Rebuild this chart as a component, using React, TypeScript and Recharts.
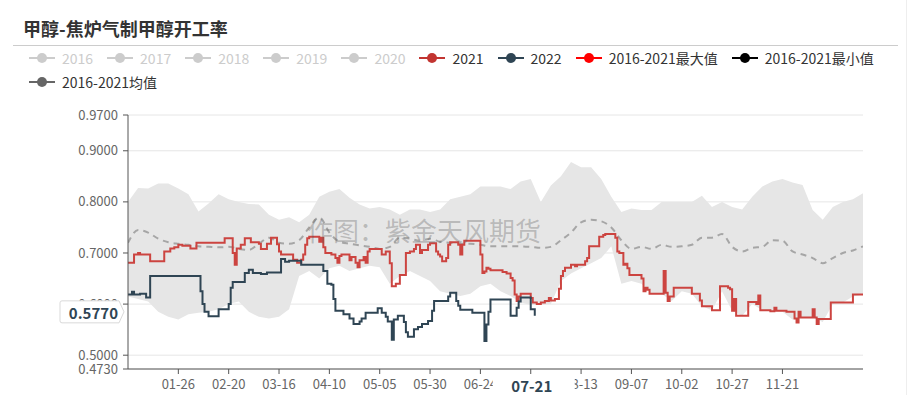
import React from "react";
import {
  Area,
  CartesianGrid,
  ComposedChart,
  Line,
  ReferenceLine,
  XAxis,
  YAxis,
} from "recharts";

const FONT = '"Noto Sans CJK SC", "Noto Sans", sans-serif';

// x axis: day of year (leap calendar, 0 = 01-01)
const tickDays = [25, 50, 75, 100, 125, 150, 175, 200, 225, 250, 275, 300, 325];
const tickLabels = [
  "01-26", "02-20", "03-16", "04-10", "05-05", "05-30", "06-24",
  "07-19", "08-13", "09-07", "10-02", "10-27", "11-21",
];
const yTicks = [0.473, 0.5, 0.6, 0.7, 0.8, 0.9, 0.97];

// 2021: days where the weekly value changes, and the value from that day on
const days2021 = [
  0, 3, 5, 6, 11, 18, 21, 23, 25, 27, 31, 34, 48, 52, 53, 54, 56, 58, 61, 65,
  66, 69, 71, 74, 75, 76, 82, 84, 86, 87, 88, 89, 90, 95, 96, 97, 98, 101, 103,
  104, 105, 106, 110, 111, 113, 114, 115, 117, 118, 119, 120, 126, 128, 130,
  131, 133, 135, 138, 140, 142, 143, 145, 146, 149, 150, 153, 154, 155, 156,
  158, 159, 160, 164, 165, 166, 167, 175, 176, 177, 178, 179, 180, 186, 188,
  190, 191, 192, 193, 194, 195, 200, 201, 203, 205, 207, 209, 210, 212, 214,
  215, 216, 217, 220, 222, 223, 227, 228, 229, 234, 236, 237, 242, 243, 244,
  246, 247, 248, 249, 255, 256, 257, 258, 259, 266, 267, 268, 269, 271, 280,
  284, 285, 290, 294, 298, 299, 300, 301, 302, 308, 312, 313, 314, 319, 321,
  322, 327, 331, 332, 333, 334, 340, 341, 342, 343, 349, 360, 365,
];
const vals2021 = [
  0.681, 0.697, 0.7, 0.697, 0.684, 0.703, 0.709, 0.711, 0.716, 0.714, 0.709,
  0.72, 0.729, 0.7, 0.677, 0.709, 0.716, 0.729, 0.721, 0.718, 0.708, 0.718,
  0.73, 0.717, 0.703, 0.697, 0.687, 0.681, 0.687, 0.697, 0.716, 0.729, 0.732,
  0.722, 0.73, 0.711, 0.7, 0.697, 0.69, 0.681, 0.694, 0.697, 0.686, 0.692,
  0.681, 0.672, 0.686, 0.692, 0.681, 0.703, 0.708, 0.697, 0.703, 0.68, 0.635,
  0.64, 0.657, 0.7, 0.703, 0.708, 0.716, 0.7, 0.706, 0.716, 0.719, 0.703,
  0.697, 0.693, 0.684, 0.69, 0.716, 0.721, 0.716, 0.697, 0.716, 0.724, 0.697,
  0.661, 0.664, 0.671, 0.669, 0.666, 0.663, 0.66, 0.651, 0.646, 0.619, 0.606,
  0.615, 0.62, 0.612, 0.603, 0.6, 0.603, 0.606, 0.612, 0.607, 0.61, 0.63,
  0.655, 0.665, 0.671, 0.677, 0.674, 0.677, 0.684, 0.69, 0.713, 0.732, 0.735,
  0.737, 0.73, 0.703, 0.7, 0.677, 0.679, 0.67, 0.657, 0.65, 0.625, 0.632,
  0.628, 0.62, 0.665, 0.622, 0.606, 0.615, 0.632, 0.62, 0.607, 0.596, 0.588,
  0.635, 0.632, 0.629, 0.587, 0.61, 0.577, 0.604, 0.6, 0.617, 0.588, 0.586,
  0.593, 0.587, 0.585, 0.572, 0.564, 0.585, 0.574, 0.59, 0.574, 0.561, 0.571,
  0.603, 0.619, 0.619,
];

const days2022 = [
  0, 2, 3, 6, 9, 11, 36, 37, 38, 40, 45, 50, 51, 52, 58, 60, 62, 66, 69, 76,
  78, 80, 86, 97, 99, 101, 102, 103, 107, 110, 112, 115, 116, 118, 124, 126,
  128, 129, 131, 132, 134, 137, 138, 139, 142, 144, 146, 149, 151, 152, 159,
  160, 163, 164, 165, 171, 177, 178, 179, 180, 190, 193, 194, 195, 200, 202,
];
const vals2022 = [
  0.619, 0.624, 0.619, 0.62, 0.613, 0.655, 0.625, 0.6, 0.585, 0.576, 0.59,
  0.6, 0.632, 0.643, 0.661, 0.667, 0.661, 0.659, 0.662, 0.688, 0.683, 0.685,
  0.677, 0.665, 0.64, 0.638, 0.61, 0.587, 0.58, 0.572, 0.561, 0.566, 0.572,
  0.583, 0.592, 0.583, 0.575, 0.566, 0.53, 0.57, 0.577, 0.565, 0.545, 0.536,
  0.551, 0.555, 0.561, 0.567, 0.587, 0.606, 0.615, 0.622, 0.606, 0.597, 0.589,
  0.583, 0.528, 0.56, 0.585, 0.609, 0.577, 0.593, 0.605, 0.613, 0.59, 0.577,
];

// 2016-2021 band and mean, read every 5 days
const bandDays = [
  0, 5, 10, 15, 20, 25, 30, 35, 40, 45, 50, 55, 60, 65, 70, 75, 80, 85, 90,
  95, 100, 105, 110, 115, 120, 125, 130, 135, 140, 145, 150, 155, 160, 165,
  170, 175, 180, 185, 190, 195, 200, 205, 210, 215, 220, 225, 230, 235, 240,
  245, 250, 255, 260, 265, 270, 275, 280, 285, 290, 295, 300, 305, 310, 315,
  320, 325, 330, 335, 340, 345, 350, 355, 360, 365,
];
const maxVals = [
  0.8, 0.827, 0.826, 0.836, 0.836, 0.826, 0.815, 0.781, 0.797, 0.815, 0.805,
  0.8, 0.796, 0.795, 0.775, 0.765, 0.77, 0.76, 0.775, 0.81, 0.82, 0.825,
  0.808, 0.795, 0.787, 0.79, 0.785, 0.775, 0.785, 0.785, 0.78, 0.785, 0.805,
  0.81, 0.815, 0.83, 0.83, 0.83, 0.825, 0.84, 0.845, 0.8, 0.832, 0.85, 0.878,
  0.868, 0.868, 0.845, 0.81, 0.78, 0.787, 0.784, 0.784, 0.8, 0.8, 0.8, 0.8,
  0.812, 0.79, 0.8, 0.79, 0.785, 0.81, 0.83, 0.84, 0.845, 0.838, 0.833,
  0.784, 0.765, 0.79, 0.8, 0.805, 0.817,
];
const minVals = [
  0.615, 0.61, 0.605, 0.585, 0.575, 0.57, 0.58, 0.583, 0.585, 0.59, 0.6,
  0.605, 0.585, 0.575, 0.572, 0.575, 0.59, 0.655, 0.665, 0.65, 0.67, 0.675,
  0.665, 0.67, 0.675, 0.672, 0.64, 0.655, 0.665, 0.655, 0.645, 0.625, 0.62,
  0.616, 0.62, 0.635, 0.64, 0.625, 0.616, 0.603, 0.598, 0.598, 0.6, 0.645,
  0.66, 0.67, 0.68, 0.69, 0.713, 0.64, 0.645, 0.64, 0.62, 0.62, 0.606, 0.625,
  0.62, 0.596, 0.588, 0.625, 0.587, 0.577, 0.6, 0.588, 0.586, 0.585, 0.57,
  0.574, 0.574, 0.565, 0.6, 0.603, 0.615, 0.619,
];
const meanVals = [
  0.72, 0.745, 0.74, 0.728, 0.721, 0.718, 0.716, 0.713, 0.712, 0.711, 0.712,
  0.708, 0.706, 0.718, 0.73, 0.72, 0.718, 0.725, 0.75, 0.77, 0.74, 0.722,
  0.718, 0.715, 0.712, 0.708, 0.712, 0.73, 0.728, 0.724, 0.728, 0.722, 0.72,
  0.718, 0.718, 0.716, 0.713, 0.713, 0.713, 0.713, 0.712, 0.71, 0.712, 0.725,
  0.74, 0.76, 0.765, 0.762, 0.75, 0.725, 0.708, 0.712, 0.708, 0.716, 0.712,
  0.713, 0.716, 0.73, 0.73, 0.737, 0.712, 0.703, 0.71, 0.712, 0.725, 0.724,
  0.703, 0.697, 0.69, 0.68, 0.69, 0.7, 0.705, 0.713,
];

// axis-pointer readout shown in the screenshot
const pointerDay = 202;
const pointerLabel = "07-21";
const pointerValue = 0.577;

const legendRow1 = [
  { name: "2016", color: "#ccc", off: true },
  { name: "2017", color: "#ccc", off: true },
  { name: "2018", color: "#ccc", off: true },
  { name: "2019", color: "#ccc", off: true },
  { name: "2020", color: "#ccc", off: true },
  { name: "2021", color: "#c23531", off: false },
  { name: "2022", color: "#2f4554", off: false },
  { name: "2016-2021最大值", color: "#ff0000", off: false },
  { name: "2016-2021最小值", color: "#000000", off: false },
];
const legendRow2 = [{ name: "2016-2021均值", color: "#666", off: false }];

const data2021 = days2021.map((d, i) => ({ d, v: vals2021[i] }));
const data2022 = days2022.map((d, i) => ({ d, v: vals2022[i] }));
const bandData = bandDays.map((d, i) => ({
  d,
  range: [minVals[i], maxVals[i]],
  mean: meanVals[i],
}));

function LegendRow({ items, top }: { items: typeof legendRow1; top: number }) {
  return (
    <div
      style={{
        position: "absolute",
        left: 29,
        top,
        display: "flex",
        alignItems: "center",
        fontFamily: FONT,
        fontSize: 14,
        lineHeight: "16px",
      }}
    >
      {items.map((it) => (
        <div key={it.name} style={{ display: "flex", alignItems: "center", marginRight: 14 }}>
          <svg width={26} height={14}>
            <line x1={0} y1={7} x2={26} y2={7} stroke={it.color} strokeWidth={2} />
            <circle cx={13} cy={7} r={5} fill={it.color} />
          </svg>
          <span style={{ marginLeft: 7, color: it.off ? "#ccc" : "#333" }}>{it.name}</span>
        </div>
      ))}
    </div>
  );
}

function YTag(props: any) {
  const vb = props.viewBox || {};
  const x = vb.x;
  const y = vb.y - 4;
  return (
    <g>
      <path
        d={`M${x - 66},${y - 11} H${x - 9} L${x - 4},${y} L${x - 9},${y + 11} H${x - 66} Q${x - 68},${y + 11} ${x - 68},${y + 9} V${y - 9} Q${x - 68},${y - 11} ${x - 66},${y - 11} Z`}
        fill="#fff"
        stroke="#d9d9d9"
      />
      <text
        x={x - 10}
        y={y + 1}
        textAnchor="end"
        dominantBaseline="central"
        fontSize={15}
        fontWeight="bold"
        fill="#2f4554"
        fontFamily={FONT}
      >
        {pointerValue.toFixed(4)}
      </text>
    </g>
  );
}

function XTag(props: any) {
  const vb = props.viewBox || {};
  const x = vb.x;
  const bottom = vb.y + vb.height;
  return (
    <g>
      <rect x={x - 42} y={bottom + 6} width={82} height={22} fill="#fff" />
      <text
        x={x - 3}
        y={bottom + 16}
        textAnchor="middle"
        dominantBaseline="central"
        fontSize={15}
        fontWeight="bold"
        fill="#2f4554"
        fontFamily={FONT}
      >
        {pointerLabel}
      </text>
    </g>
  );
}

export default function App() {
  return (
    <div
      style={{
        position: "fixed",
        left: 0,
        top: 0,
        width: 912,
        height: 395,
        background: "#fff",
        overflow: "hidden",
        fontFamily: FONT,
      }}
    >
      <div
        style={{
          position: "absolute",
          left: 23,
          top: 16,
          fontSize: 18,
          fontWeight: "bold",
          color: "#333",
          lineHeight: "24px",
        }}
      >
        甲醇-焦炉气制甲醇开工率
      </div>
      <div style={{ position: "absolute", left: 13, top: 45, width: 885, height: 1, background: "#ccc" }} />
      <div style={{ position: "absolute", left: 906, top: 0, width: 1, height: 395, background: "#eee" }} />
      <LegendRow items={legendRow1} top={50} />
      <LegendRow items={legendRow2} top={74} />

      <div style={{ position: "absolute", left: 0, top: 0 }}>
        <ComposedChart
          width={912}
          height={395}
          margin={{ top: 115, right: 49, bottom: 0, left: 0 }}
          style={{ fontFamily: FONT }}
        >
          <CartesianGrid vertical={false} stroke="#e6e6e6" />
          <XAxis
            type="number"
            dataKey="d"
            domain={[0, 365]}
            ticks={tickDays}
            interval={0}
            allowDataOverflow
            tickFormatter={(v: number) => (v === 200 ? "" : tickLabels[tickDays.indexOf(v)] ?? "")}
            height={26}
            tickSize={5}
            tickMargin={6}
            axisLine={{ stroke: "#555" }}
            tickLine={{ stroke: "#555" }}
            tick={{ fontSize: 13, fill: "#666" }}
          />
          <YAxis
            type="number"
            domain={[0.473, 0.97]}
            ticks={yTicks}
            interval={0}
            allowDataOverflow
            width={128}
            tickFormatter={(v: number) => v.toFixed(4)}
            tickSize={5}
            tickMargin={5}
            axisLine={{ stroke: "#555" }}
            tickLine={{ stroke: "#555" }}
            tick={{ fontSize: 13, fill: "#666" }}
          />
          <Area
            data={bandData}
            dataKey="range"
            type="linear"
            stroke="none"
            fill="#e6e6e6"
            fillOpacity={1}
            isAnimationActive={false}
            activeDot={false}
          />
          <Line
            data={bandData}
            dataKey="mean"
            type="monotone"
            stroke="#a6a6a6"
            strokeWidth={2}
            strokeDasharray="6 5"
            dot={false}
            isAnimationActive={false}
          />
          <Line
            data={data2021}
            dataKey="v"
            type="stepAfter"
            stroke="#cc4440"
            strokeWidth={2}
            dot={false}
            isAnimationActive={false}
          />
          <Line
            data={data2022}
            dataKey="v"
            type="stepAfter"
            stroke="#2f4554"
            strokeWidth={2}
            dot={false}
            isAnimationActive={false}
          />
          <ReferenceLine
            y={pointerValue}
            stroke="none"
            zIndex={3000}
            label={(p: any) => <YTag {...p} />}
          />
          <ReferenceLine
            x={pointerDay}
            stroke="none"
            zIndex={3000}
            label={(p: any) => <XTag {...p} />}
          />
        </ComposedChart>
      </div>

      <div
        style={{
          position: "absolute",
          left: 307,
          top: 213,
          fontSize: 26,
          color: "rgba(90,90,90,0.32)",
          pointerEvents: "none",
          whiteSpace: "nowrap",
          lineHeight: "34px",
        }}
      >
        作图：紫金天风期货
      </div>
    </div>
  );
}
